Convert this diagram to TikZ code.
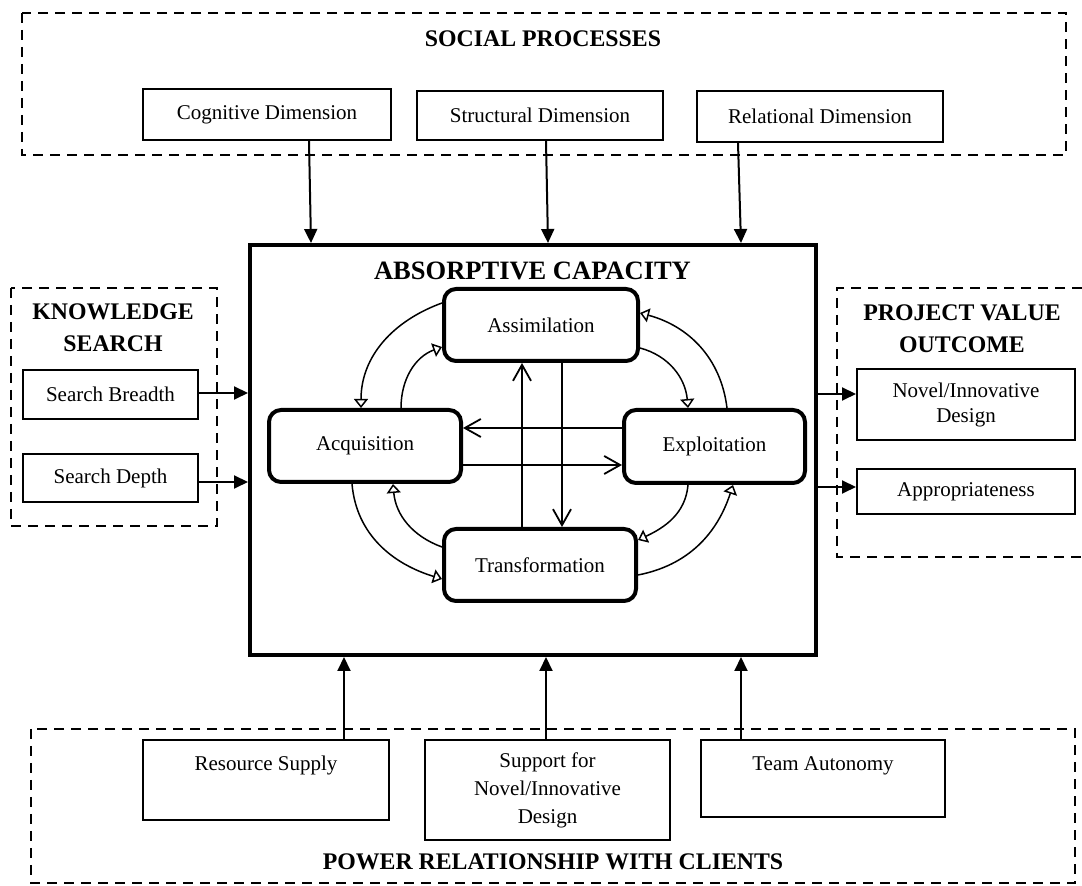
\documentclass[tikz,border=0pt]{standalone}
\usepackage{fontspec}
\setmainfont{Liberation Serif}
\usetikzlibrary{arrows.meta,calc}
\begin{document}
\begin{tikzpicture}[x=1pt,y=1pt,
  txt/.style={font=\fontsize{21}{25}\selectfont},
  ttl/.style={font=\fontsize{23.8}{32}\selectfont\bfseries, align=center, inner sep=0pt},
  plainbox/.style={draw, line width=2pt, inner sep=0pt, txt, align=center},
  stagebox/.style={draw, line width=4pt, rounded corners=12pt, inner sep=0pt, txt},
  groupbox/.style={draw, line width=2.4pt, dash pattern=on 10pt off 7pt},
  feedarrow/.style={line width=2pt, -{Triangle[length=14pt,width=13pt]}},
  crossarrow/.style={line width=1.8pt, -{Straight Barb[length=16pt,width=18pt]}},
  turnarrow/.style={line width=1.5pt, -{Triangle[open,length=9pt,width=14pt]}},
]
\useasboundingbox (0,0) rectangle (1082,886);

% ---------- social processes ----------
\draw[groupbox] (22,873) rectangle (1066,731);
\node[ttl] (sptitle) at (543,847) {SOCIAL PROCESSES};
\node[plainbox, minimum width=248pt, minimum height=51pt] (cogdim) at (267,771.5) {Cognitive Dimension};
\node[plainbox, minimum width=246pt, minimum height=49pt] (strdim) at (540,770.5) {Structural Dimension};
\node[plainbox, minimum width=246pt, minimum height=51pt] (reldim) at (820,769.5) {Relational Dimension};

% ---------- absorptive capacity ----------
\node[draw, line width=4pt, minimum width=566pt, minimum height=410pt, inner sep=0pt] (main) at (533,436) {};
\node[font=\fontsize{26.5}{30}\selectfont\bfseries, inner sep=0pt] (actitle) at (532.5,615) {ABSORPTIVE CAPACITY};

\node[stagebox, minimum width=194pt, minimum height=72pt] (asm) at (541,561) {Assimilation};
\node[stagebox, minimum width=192pt, minimum height=72pt] (acq) at (365,440) {Acquisition};
\node[stagebox, minimum width=181pt, minimum height=73pt] (exp) at (714.5,439.5) {Exploitation};
\node[stagebox, minimum width=192pt, minimum height=72pt] (trn) at (540,321) {Transformation};

% straight links between the stages
\draw[crossarrow] ($(trn.north)+(-18,0)$) -- ($(trn.north |- asm.south)+(-18,0)$);
\draw[crossarrow] ($(asm.south)+(21,0)$) -- ($(asm.south |- trn.north)+(21,0)$);
\draw[crossarrow] ($(exp.west)+(0,18.5)$) -- ($(exp.west -| acq.east)+(0,18.5)$);
\draw[crossarrow] ($(acq.east)+(0,-19)$) -- ($(acq.east -| exp.west)+(0,-19)$);

% curved links around the cycle
\draw[turnarrow] ($(asm.west)+(0,22)$) to[out=200,in=90] ($(acq.north)+(-4,0)$);
\draw[turnarrow] ($(acq.north)+(36,0)$) to[out=90,in=200] ($(asm.west)+(0,-22)$);
\draw[turnarrow] ($(exp.north)+(12.5,0)$) to[out=97,in=-15] ($(asm.east)+(0,12)$);
\draw[turnarrow] ($(asm.east)+(0,-23)$) to[out=-15,in=95] ($(exp.north)+(-26.5,0)$);
\draw[turnarrow] ($(acq.south)+(-13,0)$) to[out=-85,in=163] ($(trn.west)+(0,-14)$);
\draw[turnarrow] ($(trn.west)+(0,18)$) to[out=160,in=-85] ($(acq.south)+(28,0)$);
\draw[turnarrow] ($(exp.south)+(-26.5,0)$) to[out=-95,in=25] ($(trn.east)+(0,25)$);
\draw[turnarrow] ($(trn.east)+(0,-10)$) to[out=11,in=-108] ($(exp.south)+(18.5,0)$);

% social dimensions feed the capacity
\draw[feedarrow] ($(cogdim.south)+(42,0)$) -- ($(main.north west)+(63,0)$);
\draw[feedarrow] ($(strdim.south)+(6,0)$) -- ($(main.north west)+(300,0)$);
\draw[feedarrow] ($(reldim.south)+(-82,0)$) -- ($(main.north west)+(493,0)$);

% ---------- knowledge search ----------
\draw[groupbox] (11,598) rectangle (217,360);
\node[ttl] (kstitle) at (113,558) {KNOWLEDGE\\SEARCH};
\node[plainbox, minimum width=175pt, minimum height=49pt] (sb) at (110.5,491.5) {Search Breadth};
\node[plainbox, minimum width=175pt, minimum height=48pt] (sd) at (110.5,408) {Search Depth};
\draw[feedarrow] ($(sb.east)+(0,1.5)$) -- ($(sb.east -| main.west)+(0,1.5)$);
\draw[feedarrow] ($(sd.east)+(0,-4)$) -- ($(sd.east -| main.west)+(0,-4)$);

% ---------- project value outcome ----------
\draw[groupbox] (1082,598) -- (837,598) -- (837,329) -- (1082,329);
\node[ttl] (pvtitle) at (962,557) {PROJECT VALUE\\OUTCOME};
\node[plainbox, minimum width=218pt, minimum height=71pt] (nov) at (966,481.5) {Novel/Innovative\\Design};
\node[plainbox, minimum width=218pt, minimum height=45pt] (app) at (966,394.5) {Appropriateness};
\draw[feedarrow] ($(nov.west -| main.east)+(0,10.5)$) -- ($(nov.west)+(0,10.5)$);
\draw[feedarrow] ($(app.west -| main.east)+(0,4.5)$) -- ($(app.west)+(0,4.5)$);

% ---------- power relationship with clients ----------
\draw[groupbox] (31,157) rectangle (1075,3);
\node[ttl] (prtitle) at (553,24) {POWER RELATIONSHIP WITH CLIENTS};
\node[plainbox, minimum width=246pt, text height=31pt, text depth=49pt] (res) at (266,106) {Resource Supply};
\node[plainbox, minimum width=245pt, minimum height=100pt, font=\fontsize{21}{28}\selectfont] (sup) at (547.5,96) {Support for\\Novel/Innovative\\Design};
\node[plainbox, minimum width=244pt, text height=31pt, text depth=46pt] (team) at (823,107.5) {Team Autonomy};
\draw[feedarrow] ($(res.north)+(78,0)$) -- ($(res.north |- main.south)+(78,0)$);
\draw[feedarrow] ($(sup.north)+(-1.5,0)$) -- ($(sup.north |- main.south)+(-1.5,0)$);
\draw[feedarrow] ($(team.north)+(-82,0)$) -- ($(team.north |- main.south)+(-82,0)$);
\end{tikzpicture}
\end{document}
